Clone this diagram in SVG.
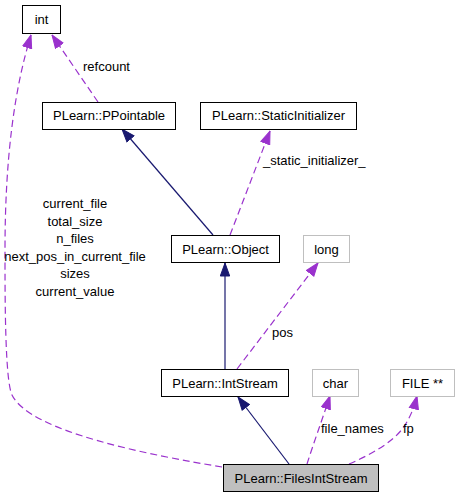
<svg xmlns="http://www.w3.org/2000/svg" width="460" height="499" viewBox="0 0 460 499">
<style>
text{font-family:"Liberation Sans",Arial,sans-serif;font-size:13px;fill:#000}
.c{text-anchor:middle}
.box{fill:#fff;stroke:#000;stroke-width:1}
.gbox{fill:#fff;stroke:#bfbfbf;stroke-width:1}
.cur{fill:#bfbfbf;stroke:#000;stroke-width:1}
.inh{fill:none;stroke:#191970;stroke-width:1.2}
.use{fill:none;stroke:#9a32cd;stroke-width:1.2;stroke-dasharray:7,4}
</style>
<defs>
<marker id="an" viewBox="0 0 14 11" refX="13.5" refY="5.5" markerWidth="14" markerHeight="11" markerUnits="userSpaceOnUse" orient="auto">
<path d="M0.5,0.8 L13.5,5.5 L0.5,10.2 z" fill="#191970" stroke="#191970" stroke-width="1"/>
</marker>
<marker id="ap" viewBox="0 0 14 11" refX="13.5" refY="5.5" markerWidth="14" markerHeight="11" markerUnits="userSpaceOnUse" orient="auto">
<path d="M0.5,0.8 L13.5,5.5 L0.5,10.2 z" fill="#9a32cd" stroke="#9a32cd" stroke-width="1"/>
</marker>
</defs>
<rect width="460" height="499" fill="#fff"/>
<g id="edges">
<path class="use" marker-end="url(#ap)" d="M222,467 C150,455 30,432 12,395 C5,380 5,300 5,250 C5,160 14,90 31,35"/>
<path class="use" marker-end="url(#ap)" d="M98,102 L52,35"/>
<text x="83" y="71">refcount</text>
<path class="inh" marker-end="url(#an)" d="M213,235 L122,129"/>
<path class="use" marker-end="url(#ap)" d="M230,235 L270,131"/>
<text x="263" y="165">_static_initializer_</text>
<path class="inh" marker-end="url(#an)" d="M225,369 L225,263"/>
<path class="use" marker-end="url(#ap)" d="M237,369 L318,263"/>
<text x="272" y="337">pos</text>
<path class="inh" marker-end="url(#an)" d="M289,464 L238,397"/>
<path class="use" marker-end="url(#ap)" d="M307,464 C313,445 322,420 330,396"/>
<text x="321" y="433">file_names</text>
<path class="use" marker-end="url(#ap)" d="M349,464 C370,455 392,443 403,428 C410,418 414,408 417,396"/>
<text x="403" y="433">fp</text>
<text class="c" x="75" y="208">current_file</text>
<text class="c" x="75" y="225.5">total_size</text>
<text class="c" x="75" y="243">n_files</text>
<text class="c" x="75" y="260.5">next_pos_in_current_file</text>
<text class="c" x="75" y="278">sizes</text>
<text class="c" x="75" y="295.5">current_value</text>
</g>
<g id="int"><rect class="box" x="22.5" y="5.5" width="38" height="28"/><text class="c" x="41.5" y="24">int</text></g>
<g id="PPointable"><rect class="box" x="42.5" y="102.5" width="133" height="27"/><text class="c" x="109" y="120">PLearn::PPointable</text></g>
<g id="StaticInitializer"><rect class="box" x="200.5" y="102.5" width="156" height="27"/><text class="c" x="278.5" y="120">PLearn::StaticInitializer</text></g>
<g id="Object"><rect class="box" x="171.5" y="235.5" width="108" height="27"/><text class="c" x="225.5" y="253.5">PLearn::Object</text></g>
<g id="long"><rect class="gbox" x="303.5" y="235.5" width="46" height="27"/><text class="c" x="326.5" y="253.5">long</text></g>
<g id="IntStream"><rect class="box" x="161.5" y="369.5" width="127" height="27"/><text class="c" x="225" y="387.5">PLearn::IntStream</text></g>
<g id="char"><rect class="gbox" x="312.5" y="369.5" width="46" height="27"/><text class="c" x="335.5" y="387.5">char</text></g>
<g id="FILE"><rect class="gbox" x="390.5" y="369.5" width="64" height="27"/><text class="c" x="422.5" y="387.5">FILE **</text></g>
<g id="FilesIntStream"><rect class="cur" x="223.5" y="464.5" width="155" height="27"/><text class="c" x="301" y="482.5">PLearn::FilesIntStream</text></g>
</svg>
